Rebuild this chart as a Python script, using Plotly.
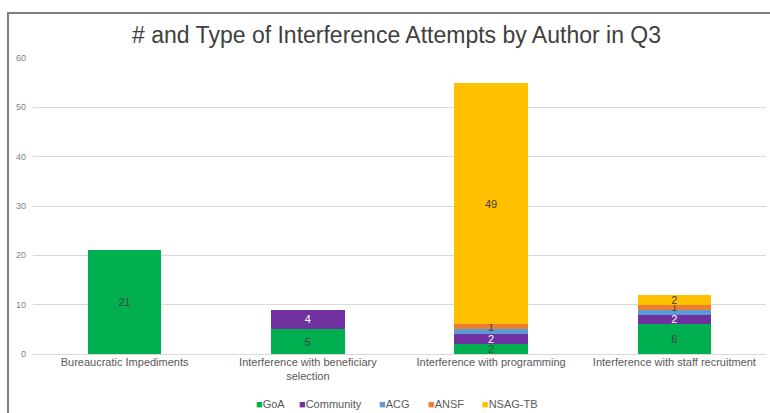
import plotly.graph_objects as go

categories = [
    "Bureaucratic Impediments",
    "Interference with beneficiary<br>selection",
    "Interference with programming",
    "Interference with staff recruitment",
]
goa = [21, 5, 2, 6]
community = [0, 4, 2, 2]
acg = [0, 0, 1, 1]
ansf = [0, 0, 1, 1]
nsag_tb = [0, 0, 49, 2]

series = [
    ("GoA", goa, "#00b050", "#404040", True),
    ("Community", community, "#7030a0", "#ffffff", True),
    ("ACG", acg, "#5b9bd5", "#404040", False),
    ("ANSF", ansf, "#ed7d31", "#404040", True),
    ("NSAG-TB", nsag_tb, "#ffc000", "#404040", True),
]

FONT = "Liberation Sans, Arial, sans-serif"

# plot-area geometry (pixels) used to place the key row
PLOT_LEFT, PLOT_WIDTH = 33, 733
key_left_px = [254, 297, 377, 426, 480]

fig = go.Figure()
for name, vals, color, tcolor, labelled in series:
    text = [str(v) if (v > 0 and labelled) else "" for v in vals]
    fig.add_trace(go.Bar(
        x=categories, y=vals, name=name,
        marker=dict(color=color, line=dict(width=0)),
        text=text, textposition="inside", insidetextanchor="middle",
        textangle=0, constraintext="none",
        textfont=dict(size=11, color=tcolor, family=FONT),
        showlegend=False, hoverinfo="x+y+name",
    ))

# compact key row under the axis: a coloured square before each series name
for (name, _, color, _, _), px in zip(series, key_left_px):
    fig.add_annotation(
        text=f"<span style='color:{color}'>■</span>{name}",
        xref="paper", yref="paper",
        x=(px - PLOT_LEFT) / PLOT_WIDTH, y=-0.168,
        xanchor="left", yanchor="middle", showarrow=False,
        font=dict(size=11, color="#595959", family=FONT),
    )

# outer frame of the chart
fig.add_shape(type="rect", xref="paper", yref="paper",
              x0=-0.0341, x1=1.03, y0=-0.3, y1=1.152,
              line=dict(color="#7f7f7f", width=2), fillcolor="rgba(0,0,0,0)",
              layer="below")

fig.update_layout(
    width=770, height=413,
    margin=dict(l=33, r=4, t=58, b=59, autoexpand=False),
    paper_bgcolor="white", plot_bgcolor="white",
    barmode="stack", bargap=0.6, showlegend=False,
    font=dict(family=FONT, color="#595959"),
    title=dict(text="# and Type of Interference Attempts by Author in Q3",
               x=0.515, xanchor="center", y=0.915, yanchor="middle",
               font=dict(size=23, color="#404040")),
    xaxis=dict(showline=False, ticks="", tickfont=dict(size=11, color="#595959"),
               showgrid=False),
    yaxis=dict(range=[0, 60], dtick=10, showgrid=True, gridcolor="#d9d9d9",
               gridwidth=1, zeroline=True, zerolinecolor="#d9d9d9", zerolinewidth=1,
               showline=False, ticks="", ticklabelstandoff=6,
               tickfont=dict(size=9, color="#7f7f7f")),
)

fig.write_html("out.html")
